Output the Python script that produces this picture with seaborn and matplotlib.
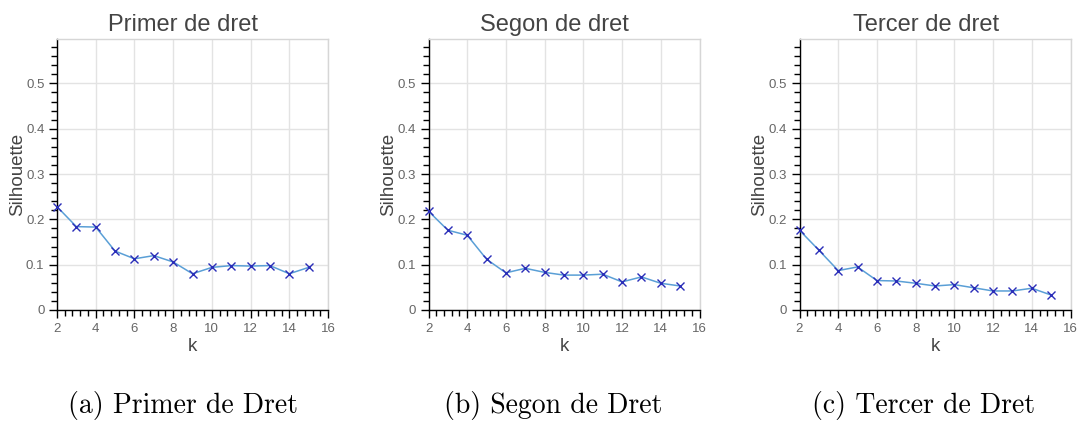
import matplotlib
matplotlib.use("Agg")
import matplotlib.pyplot as plt
from matplotlib.ticker import AutoMinorLocator, FixedLocator
import pandas as pd
import seaborn as sns

# Silhouette score per number of clusters k, for each year of the law degree
k_values = list(range(2, 16))
primer = [0.228, 0.184, 0.183, 0.130, 0.113, 0.120, 0.106, 0.080,
          0.094, 0.098, 0.097, 0.098, 0.080, 0.094]
segon = [0.218, 0.176, 0.165, 0.112, 0.082, 0.092, 0.083, 0.077,
         0.077, 0.079, 0.062, 0.073, 0.059, 0.053]
tercer = [0.176, 0.132, 0.087, 0.095, 0.065, 0.064, 0.059, 0.053,
          0.056, 0.049, 0.042, 0.042, 0.048, 0.033]

titles = ["Primer de dret", "Segon de dret", "Tercer de dret"]
captions = ["(a) Primer de Dret", "(b) Segon de Dret", "(c) Tercer de Dret"]
series = [primer, segon, tercer]

x_ticks = [2, 4, 6, 8, 10, 12, 14, 16]
x_tick_labels = ["2", "4", "6", "8", "10", "12", "14", "16"]
y_ticks = [0.0, 0.1, 0.2, 0.3, 0.4, 0.5]
y_tick_labels = ["0", "0.1", "0.2", "0.3", "0.4", "0.5"]

sns.set_style("white")
plt.rcParams["font.family"] = ["Liberation Sans", "DejaVu Sans"]

W, H = 1077, 421
fig = plt.figure(figsize=(W / 100, H / 100), dpi=100)

panel_left_px = [57, 428.5, 799.5]
panel_w_px = 271
top_px, bottom_px = 39, 310
caption_x_px = [183, 553, 923]

line_color = "#5a9fd6"
marker_color = "#2a2db8"
grid_color = "#e3e3e3"
outline_color = "#d6d6d6"
text_gray = "#444444"
tick_gray = "#666666"

for i, (title, caption, values) in enumerate(zip(titles, captions, series)):
    ax = fig.add_axes([panel_left_px[i] / W, 1 - bottom_px / H,
                       panel_w_px / W, (bottom_px - top_px) / H])
    df = pd.DataFrame({"k": k_values, "Silhouette": values})
    sns.lineplot(data=df, x="k", y="Silhouette", ax=ax, color=line_color,
                 linewidth=1.1, marker="x", markersize=6,
                 markeredgecolor=marker_color, markeredgewidth=1.0,
                 clip_on=False, zorder=3)

    ax.set_xlim(2, 16)
    ax.set_ylim(0, 0.598)
    ax.xaxis.set_major_locator(FixedLocator(x_ticks))
    ax.set_xticklabels(x_tick_labels)
    ax.yaxis.set_major_locator(FixedLocator(y_ticks))
    ax.set_yticklabels(y_tick_labels)
    ax.xaxis.set_minor_locator(AutoMinorLocator(5))
    ax.yaxis.set_minor_locator(AutoMinorLocator(5))

    ax.tick_params(which="major", direction="out", length=6, width=1,
                   color="black", labelsize=9.5, labelcolor=tick_gray, pad=3,
                   left=True, bottom=True)
    ax.tick_params(which="minor", direction="out", length=4, width=1,
                   color="black", left=True, bottom=True)

    ax.grid(True, which="major", color=grid_color, linewidth=1)
    ax.set_axisbelow(True)

    for side in ("left", "bottom"):
        ax.spines[side].set_color("black")
        ax.spines[side].set_linewidth(1)
    for side in ("top", "right"):
        ax.spines[side].set_color(outline_color)
        ax.spines[side].set_linewidth(1)

    ax.set_title(title, fontsize=17, color=text_gray, x=0.466, pad=6)
    ax.set_xlabel("k", fontsize=13.5, color=text_gray)
    ax.set_ylabel("Silhouette", fontsize=13.5, color=text_gray)
    ax.xaxis.set_label_coords(0.5, -0.103)
    ax.yaxis.set_label_coords(-0.114, 0.5)

    fig.text(caption_x_px[i] / W, 7.5 / H, caption, fontsize=20,
             family="cmr10", ha="center", va="baseline", color="black")

fig.savefig("out.png", dpi=100, facecolor="white")
